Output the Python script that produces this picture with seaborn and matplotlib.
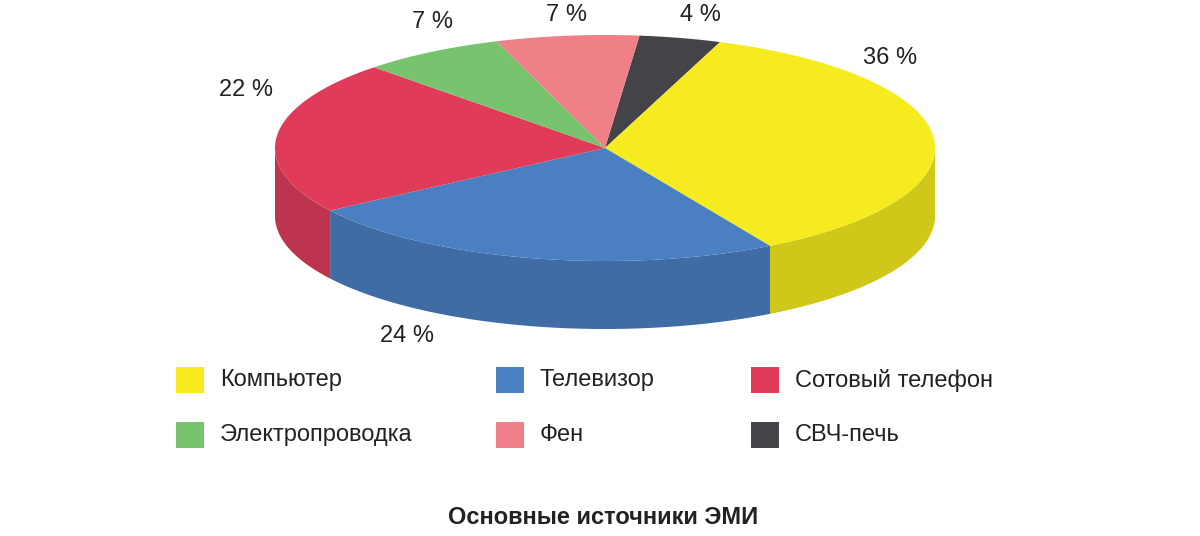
import numpy as np
import matplotlib
matplotlib.use("Agg")
import matplotlib.pyplot as plt
import seaborn as sns
from matplotlib.patches import Polygon, Rectangle
from matplotlib.colors import to_rgb

sns.set_theme(style="white")
plt.rcParams['font.family'] = ['Liberation Sans', 'DejaVu Sans']

categories = ["СВЧ-печь", "Компьютер", "Телевизор", "Сотовый телефон", "Электропроводка", "Фен"]
values = [4, 36, 24, 22, 7, 7]
labels = ["4 %", "36 %", "24 %", "22 %", "7 %", "7 %"]
colors = ["#444448", "#F5EB1E", "#4A7FC1", "#E03C5A", "#78C36E", "#F08088"]
legend_order = ["Компьютер", "Телевизор", "Сотовый телефон", "Электропроводка", "Фен", "СВЧ-печь"]
title = "Основные источники ЭМИ"

fig = plt.figure(figsize=(12, 5.36), dpi=100)
ax = fig.add_axes([0, 0, 1, 1])
ax.set_xlim(0, 1200)
ax.set_ylim(536, 0)
ax.axis("off")

cx, cy, a, b, depth = 605, 148, 330, 113, 68
start = 84.0
total = sum(values)
angs = [start]
for v in values:
    angs.append(angs[-1] - 360 * v / total)

def pt(t):
    r = np.radians(t)
    return cx + a * np.cos(r), cy - b * np.sin(r)

def dark(c, f=0.85):
    return tuple(x * f for x in to_rgb(c))

# side walls (front half: angles where sin < 0, i.e. 180..360)
for i in range(len(values)):
    t1, t0 = angs[i + 1], angs[i]
    # normalize to [-360, 360] range segments overlapping [180,360] mod 360
    for shift in (-360, 0, 360):
        lo, hi = max(t1 + shift, 180), min(t0 + shift, 360)
        if hi > lo:
            ts = np.linspace(lo, hi, 80)
            top = [pt(t) for t in ts]
            bot = [(x, y + depth) for x, y in top[::-1]]
            ax.add_patch(Polygon(top + bot, closed=True, fc=dark(colors[i]), ec="none", zorder=1))

# tops
for i in range(len(values)):
    ts = np.linspace(angs[i], angs[i + 1], 120)
    poly = [(cx, cy)] + [pt(t) for t in ts]
    ax.add_patch(Polygon(poly, closed=True, fc=colors[i], ec="none", zorder=2))

label_pos = [(700, 15), (890, 58), (407, 336), (246, 90), (432, 22), (567, 15)]
for lab, (x, y) in zip(labels, label_pos):
    ax.text(x, y, lab, fontsize=17, ha="center", va="center", color="#222222")

leg_x = [190, 510, 765]
leg_y = [380, 435]
for k, name in enumerate(legend_order):
    i = categories.index(name)
    x, y = leg_x[k % 3], leg_y[k // 3]
    ax.add_patch(Rectangle((x - 14, y - 13), 28, 26, fc=colors[i], ec="none"))
    ax.text(x + 30, y, name, fontsize=17, ha="left", va="center", color="#222222")

ax.text(603, 518, title, fontsize=17, fontweight="bold", ha="center", va="center",
        color="#222222", fontstretch="condensed")

fig.savefig("out.png", dpi=100, facecolor="white")
